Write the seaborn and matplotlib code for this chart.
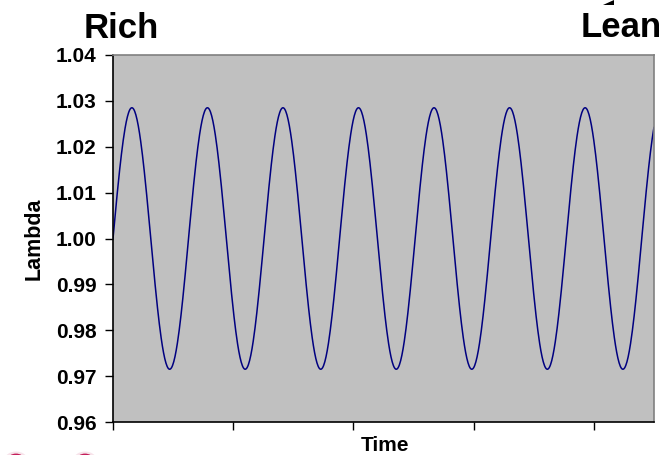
import numpy as np
import pandas as pd
import matplotlib
matplotlib.use("Agg")
import matplotlib.pyplot as plt
import seaborn as sns
from matplotlib.patches import Circle, Polygon

# Oscillating air/fuel ratio (lambda) around stoichiometric
LAMBDA_MEAN = 1.00
LAMBDA_AMPLITUDE = 0.0285
ANGULAR_FREQ = 10.0          # rad per time unit
TIME_END = 4.5
N_SAMPLES = 900

Y_TICKS = [0.96, 0.97, 0.98, 0.99, 1.00, 1.01, 1.02, 1.03, 1.04]
X_TICKS = [0, 1, 2, 3, 4]

time = np.linspace(0.0, TIME_END, N_SAMPLES)
lam = LAMBDA_MEAN + LAMBDA_AMPLITUDE * np.sin(ANGULAR_FREQ * time)
df = pd.DataFrame({"Time": time, "Lambda": lam})

sns.set_style("ticks")
plt.rcParams["font.family"] = ["Liberation Sans", "DejaVu Sans"]
plt.rcParams["font.weight"] = "bold"
for key in ("text.color", "axes.labelcolor", "xtick.color", "ytick.color"):
    plt.rcParams[key] = "black"

W, H = 671, 455
fig = plt.figure(figsize=(W / 100, H / 100), dpi=100)
ax = fig.add_axes([113 / W, (H - 422) / H, 541 / W, 367 / H])
ax.set_facecolor("#c0c0c0")

sns.lineplot(data=df, x="Time", y="Lambda", ax=ax, color="#000080", linewidth=1.1)

ax.set_xlim(0, TIME_END)
ax.set_ylim(0.96, 1.04)
ax.set_yticks(Y_TICKS)
ax.set_yticklabels([f"{v:.2f}" for v in Y_TICKS], fontsize=15, fontweight="bold")
ax.set_xticks(X_TICKS)
ax.set_xticklabels([])
ax.tick_params(axis="y", direction="out", length=6, width=1, pad=6, colors="black")
ax.tick_params(axis="x", direction="out", length=6, width=1, colors="black")

ax.set_xlabel("")
ax.set_ylabel("Lambda", fontsize=15.5, fontweight="bold", labelpad=8)
fig.text(385 / W, 1 - 451 / H, "Time", fontsize=15, fontweight="bold",
         ha="center", va="baseline")

for side in ("left", "bottom"):
    ax.spines[side].set_color("black")
    ax.spines[side].set_linewidth(1.2)
for side in ("top", "right"):
    ax.spines[side].set_visible(True)
    ax.spines[side].set_color("#808080")
    ax.spines[side].set_linewidth(1.2)

# Direction captions above the plot
fig.text(121 / W, 1 - 38 / H, "Rich", fontsize=25, fontweight="bold",
         ha="center", va="baseline")
fig.text(621 / W, 1 - 37 / H, "Lean", fontsize=25, fontweight="bold",
         ha="center", va="baseline")

# Arrow head above "Lean"
tri = Polygon([(603 / W, 1 - 5 / H), (614 / W, 1 - 0 / H), (614 / W, 1 - 5 / H)],
              closed=True, transform=fig.transFigure, facecolor="black",
              edgecolor="none")
fig.patches.append(tri)

# Logo dots in the lower left corner
for cx in (16, 85):
    for r, a in ((11, 0.12), (8, 1.0)):
        fig.patches.append(Circle((cx / W, 1 - 459 / H), r / W,
                                  transform=fig.transFigure,
                                  facecolor="#c41f5a", alpha=a,
                                  edgecolor="none"))

fig.savefig("out.png", dpi=100)
